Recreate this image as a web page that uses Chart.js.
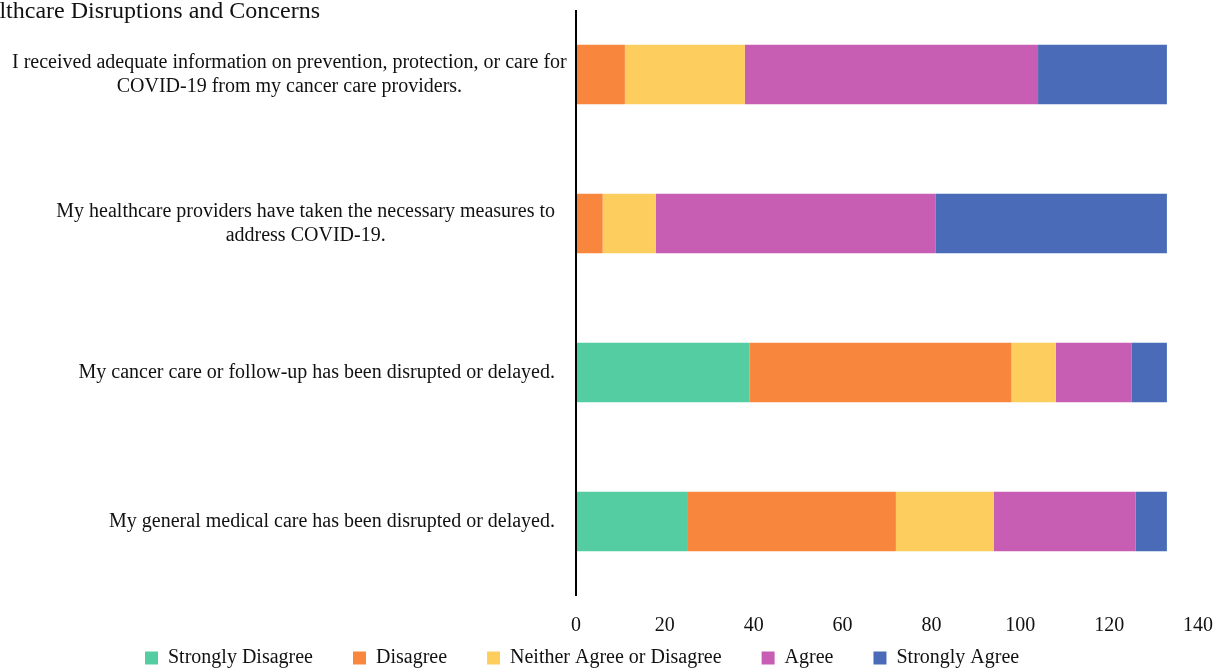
<!DOCTYPE html>
<html>
<head>
<meta charset="utf-8">
<script src="https://cdn.jsdelivr.net/npm/chart.js@4/dist/chart.umd.min.js"></script>
<style>
  html, body { margin: 0; padding: 0; background: #fff; }
  #wrap { width: 1224px; height: 672px; position: relative; }
</style>
</head>
<body>
<div id="wrap"><canvas id="chart"></canvas></div>
<script>
const chartTitle = 'Healthcare Disruptions and Concerns';

// one entry per bar, top to bottom; multi-line labels as arrays
const statements = [
  ['I received adequate information on prevention, protection, or care for', 'COVID-19 from my cancer care providers.'],
  ['My healthcare providers have taken the necessary measures to', 'address COVID-19.'],
  ['My cancer care or follow-up has been disrupted or delayed.'],
  ['My general medical care has been disrupted or delayed.']
];

const responses = ['Strongly Disagree', 'Disagree', 'Neither Agree or Disagree', 'Agree', 'Strongly Agree'];
const colors = ['#55cda2', '#f8873d', '#fdcd5d', '#c85db4', '#4a6bb7'];

const stronglyDisagree = [0, 0, 39, 25];
const disagree = [11, 6, 59, 47];
const neither = [27, 12, 10, 22];
const agree = [66, 63, 17, 32];
const stronglyAgree = [29, 52, 8, 7];

const serif = "'Liberation Serif', 'Times New Roman', serif";
const seriesValues = [stronglyDisagree, disagree, neither, agree, stronglyAgree];

// category labels drawn by hand: Excel centres wrapped lines inside a right-aligned block
const labelPlugin = {
  id: 'labels',
  afterDraw(chart) {
    const { ctx } = chart;
    const y = chart.scales.y;
    ctx.save();
    ctx.font = `20px ${serif}`;
    ctx.fillStyle = '#111';
    ctx.textAlign = 'center';
    ctx.textBaseline = 'middle';
    statements.forEach((lines, i) => {
      const cy = y.getPixelForValue(i);
      const widest = Math.max(...lines.map(l => ctx.measureText(l).width));
      const cx = Math.max(555 - widest / 2, 12 + widest / 2);
      const lh = 24;
      lines.forEach((l, j) => ctx.fillText(l, cx, cy + (j - (lines.length - 1) / 2) * lh));
    });
    // title, partly cut off on the left like the reference
    ctx.font = `24px ${serif}`;
    ctx.textAlign = 'right';
    ctx.textBaseline = 'alphabetic';
    ctx.fillText(chartTitle, 320, 18);
    // vertical axis line
    const x0 = chart.scales.x.getPixelForValue(0);
    ctx.strokeStyle = '#000';
    ctx.lineWidth = 2;
    ctx.beginPath();
    ctx.moveTo(x0, 10);
    ctx.lineTo(x0, 596);
    ctx.stroke();
    ctx.restore();
  }
};

// move legend so the first box sits where it does in the reference
const legendNudge = {
  id: 'legendNudge',
  afterLayout(chart) {
    const lg = chart.legend;
    if (!lg || !lg.lineWidths) return;
    const pad = lg.options.labels.padding;
    const cur = (lg.left + pad + lg.right - lg.lineWidths[0]) / 2;
    const shift = 145 - cur;
    lg.left += shift;
    lg.right += shift;
    lg.top = 658 - pad - 10;
    lg.bottom = chart.height;
    lg.height = lg.bottom - lg.top;
  }
};

new Chart(document.getElementById('chart'), {
  type: 'bar',
  data: {
    labels: statements,
    datasets: responses.map((name, i) => ({
      label: name,
      data: seriesValues[i],
      backgroundColor: colors[i],
      borderWidth: 0,
      barPercentage: 0.4,
      categoryPercentage: 1
    }))
  },
  options: {
    indexAxis: 'y',
    responsive: true,
    maintainAspectRatio: false,
    animation: false,
    layout: { padding: { left: 0, right: 26, top: 0, bottom: 0 } },
    plugins: {
      title: { display: false },
      tooltip: { enabled: false },
      legend: {
        position: 'bottom',
        maxHeight: 16,
        labels: {
          boxWidth: 13, boxHeight: 13, padding: 40,
          color: '#111',
          font: { family: serif, size: 20 }
        }
      }
    },
    scales: {
      x: {
        stacked: true,
        min: 0, max: 140,
        afterFit: s => { s.paddingLeft = 0; s.paddingRight = 0; },
        grid: { display: false, drawTicks: false },
        border: { display: false },
        ticks: { stepSize: 20, padding: 18, color: '#111', font: { family: serif, size: 20 } }
      },
      y: {
        stacked: true,
        afterFit: s => { s.width = 576; },
        grid: { display: false, drawTicks: false },
        border: { display: false },
        ticks: { display: false }
      }
    }
  },
  plugins: [labelPlugin, legendNudge]
});
</script>
</body>
</html>
